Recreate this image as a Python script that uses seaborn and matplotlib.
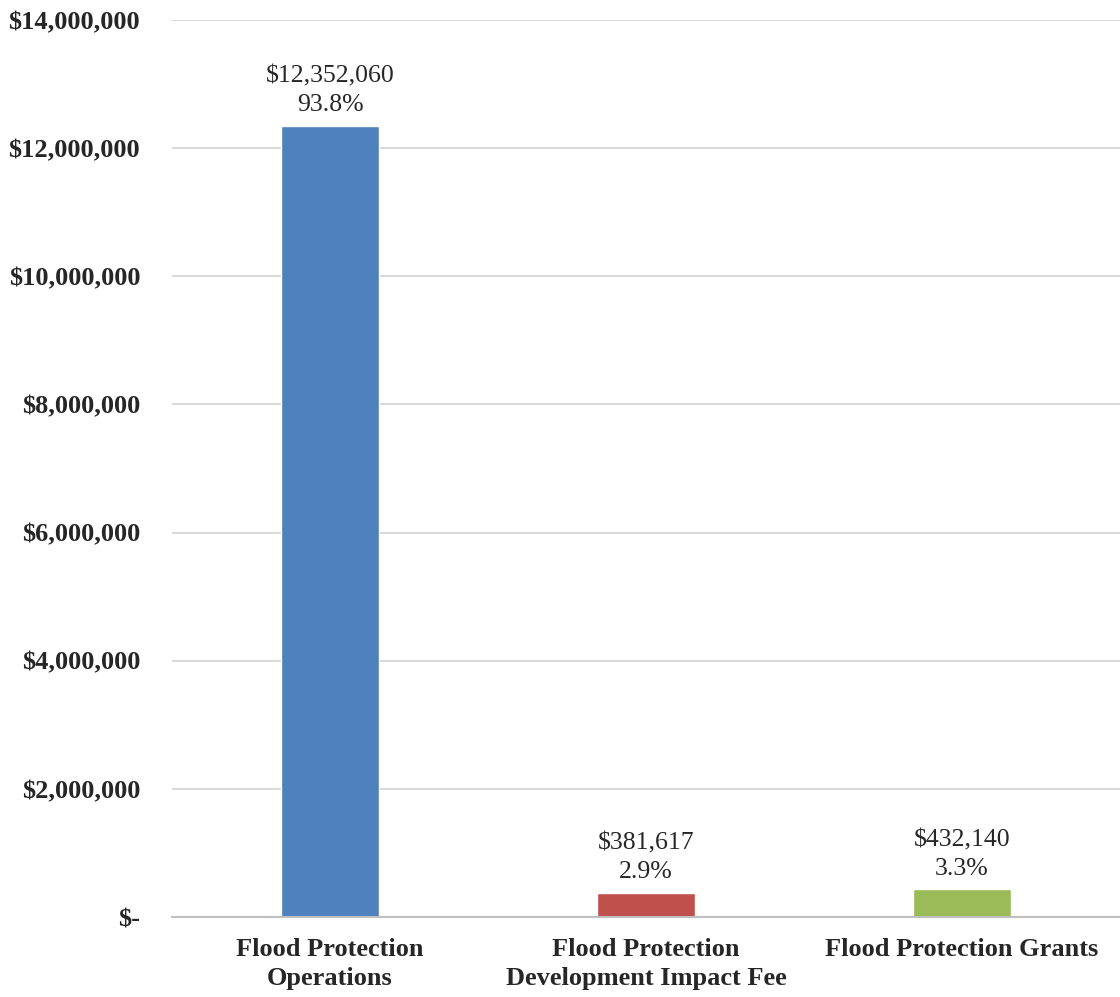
import matplotlib
matplotlib.use("Agg")
import matplotlib.pyplot as plt
import matplotlib.ticker as mticker
import seaborn as sns
import pandas as pd

categories = ["Flood Protection\nOperations",
              "Flood Protection\nDevelopment Impact Fee",
              "Flood Protection Grants"]
amounts = [12352060, 381617, 432140]
shares = ["93.8%", "2.9%", "3.3%"]
bar_colors = ["#4F81BD", "#C0504D", "#9BBB59"]
y_ticks = [0, 2000000, 4000000, 6000000, 8000000, 10000000, 12000000, 14000000]

data = pd.DataFrame({"category": categories, "amount": amounts})

sns.set_style("white")
plt.rcParams["font.family"] = ["Liberation Serif", "DejaVu Serif"]

fig = plt.figure(figsize=(11.2, 9.97), dpi=100)
ax = fig.add_axes([0.1536, 0.0802, 0.8464, 0.8998])

sns.barplot(data=data, x="category", y="amount", hue="category",
            palette=bar_colors, legend=False, width=0.31, ax=ax,
            saturation=1)

ax.set_ylim(0, 14000000)
ax.set_yticks(y_ticks)


def money(v, pos):
    if v == 0:
        return "$-"
    return f"${v:,.0f}"


ax.yaxis.set_major_formatter(mticker.FuncFormatter(money))
ax.grid(axis="y", color="#D9D9D9", linewidth=1.5)
ax.set_axisbelow(True)
for s in ["left", "right", "top"]:
    ax.spines[s].set_visible(False)
ax.spines["bottom"].set_color("#BFBFBF")
ax.spines["bottom"].set_linewidth(1.5)
ax.tick_params(axis="x", length=0, pad=15)
ax.tick_params(axis="y", length=0, pad=23)
for lab in ax.get_yticklabels():
    lab.set_fontsize(19)
    lab.set_fontweight("bold")
for lab in ax.get_xticklabels():
    lab.set_fontsize(19)
    lab.set_fontweight("bold")
    lab.set_linespacing(1.35)
ax.set_xlabel("")
ax.set_ylabel("")

for i, (amt, pct) in enumerate(zip(amounts, shares)):
    ax.annotate(f"${amt:,}\n{pct}", (i, amt), xytext=(0, 7),
                textcoords="offset points", ha="center", va="bottom",
                fontsize=18.5, linespacing=1.35)

fig.savefig("out.png", dpi=100)
